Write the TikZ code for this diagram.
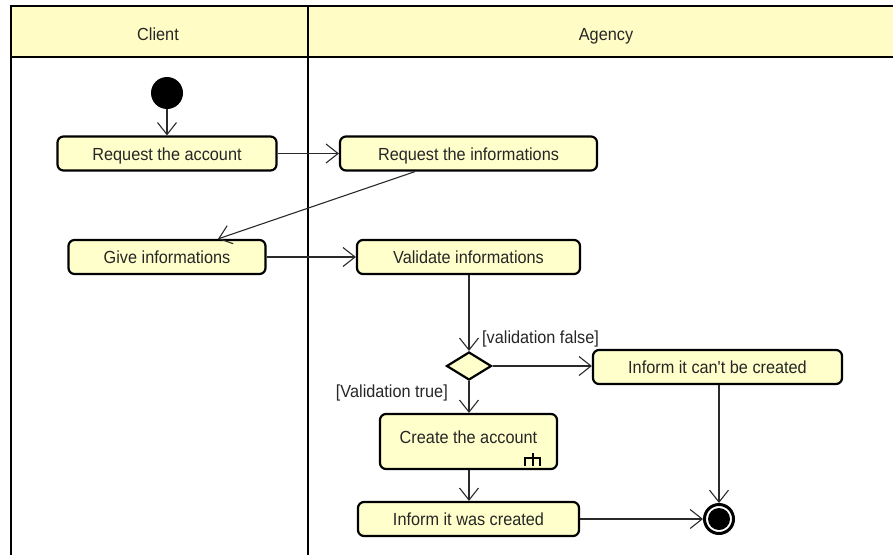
\documentclass[tikz,border=0pt]{standalone}
\usepackage{fontspec}
\setmainfont{Liberation Sans}
\usetikzlibrary{arrows.meta,shapes.geometric}
\definecolor{actfill}{HTML}{FFFFCC}
\definecolor{headfill}{HTML}{FFFCC6}
\definecolor{linecol}{HTML}{2A2A2A}
% slightly condensed label text
\newcommand{\lbltext}[1]{\scalebox{0.93}[1]{#1}}
\tikzset{
  action/.style={draw=black, line width=2.2pt, rounded corners=6pt, fill=actfill,
    minimum height=34pt, inner sep=0pt, text height=13pt, text depth=0pt,
    font=\fontsize{17.5}{20}\selectfont, text=black!85},
  flow/.style={draw=linecol, line width=1.1pt, -{Straight Barb[length=12pt,width=19pt,line width=1.1pt]}},
  guard/.style={font=\fontsize{17.5}{20}\selectfont, text=black!85, inner sep=0pt},
  lane/.style={draw=black, line width=2.4pt},
}
\begin{document}
\begin{tikzpicture}[x=1pt,y=-1pt]
\useasboundingbox (0,0) rectangle (893,554);
% swimlane frame
\fill[headfill] (11,6) rectangle (893,57);
\draw[lane] (893,6) -- (11,6) -- (11,560);
\draw[lane] (11,57) -- (893,57);
\draw[lane] (308,6) -- (308,560);
\node[guard, anchor=base] (clientlbl) at (158,40) {\lbltext{Client}};
\node[guard, anchor=base] (agencylbl) at (606,40) {\lbltext{Agency}};

% start and end
\node[circle, fill=black, minimum size=32pt, inner sep=0pt] (start) at (167,93) {};
\node[circle, draw=black, line width=3pt, fill=white, minimum size=29pt, inner sep=0pt] (final) at (719,519) {};
\node[circle, fill=black, minimum size=22pt, inner sep=0pt] (finaldot) at (719,519) {};

% actions
\node[action, minimum width=219pt] (reqacc) at (167,153.5) {\lbltext{Request the account}};
\node[action, minimum width=257pt] (reqinfo) at (468.5,153.5) {\lbltext{Request the informations}};
\node[action, minimum width=197pt] (give) at (167,257) {\lbltext{Give informations}};
\node[action, minimum width=223pt] (valid) at (468.5,257) {\lbltext{Validate informations}};
\node[shape=diamond, draw=black, line width=2.2pt, fill=actfill, minimum width=45pt, minimum height=28pt, inner sep=0pt] (dec) at (469,366) {};
\node[action, minimum width=249pt] (cant) at (717.5,367) {\lbltext{Inform it can\textquotesingle t be created}};
\node[action, minimum width=177pt, minimum height=55pt] (create) at (468.5,441.5) {\raisebox{5pt}{\lbltext{Create the account}}};
\node[action, minimum width=221pt] (created) at (468.5,519) {\lbltext{Inform it was created}};

% call-behavior rake in the create action: three prongs under a bar, stem on top
\draw[line width=2.2pt] ([shift={(-33,-4)}]create.south east) -- ++(0,-8) -- ++(15,0) -- ++(0,8)
  ([shift={(-25.5,-4)}]create.south east) -- ++(0,-8)
  ([shift={(-25.5,-12)}]create.south east) -- ++(0,-5);

% guards
\node[guard, anchor=base west] (gfalse) at (482,343) {\lbltext{[validation false]}};
\node[guard, anchor=base east] (gtrue) at (448,397) {\lbltext{[Validation true]}};

% flows
\draw[flow] (start) -- (reqacc);
\draw[flow] (reqacc) -- (reqinfo);
\draw[flow] ([xshift=-53.5pt]reqinfo.south) -- ([xshift=51pt]give.north);
\draw[flow] (give) -- (valid);
\draw[flow] (valid.south -| dec.north) -- (dec.north);
\draw[flow] (dec.east) -- (cant.west |- dec.east);
\draw[flow] (dec.south) -- (create.north -| dec.south);
\draw[flow] (create.south -| dec.south) -- (created.north -| dec.south);
\draw[flow] (created.east) -- (final.west |- created.east);
\draw[flow] (cant.south -| final.north) -- (final.north);
\end{tikzpicture}
\end{document}
